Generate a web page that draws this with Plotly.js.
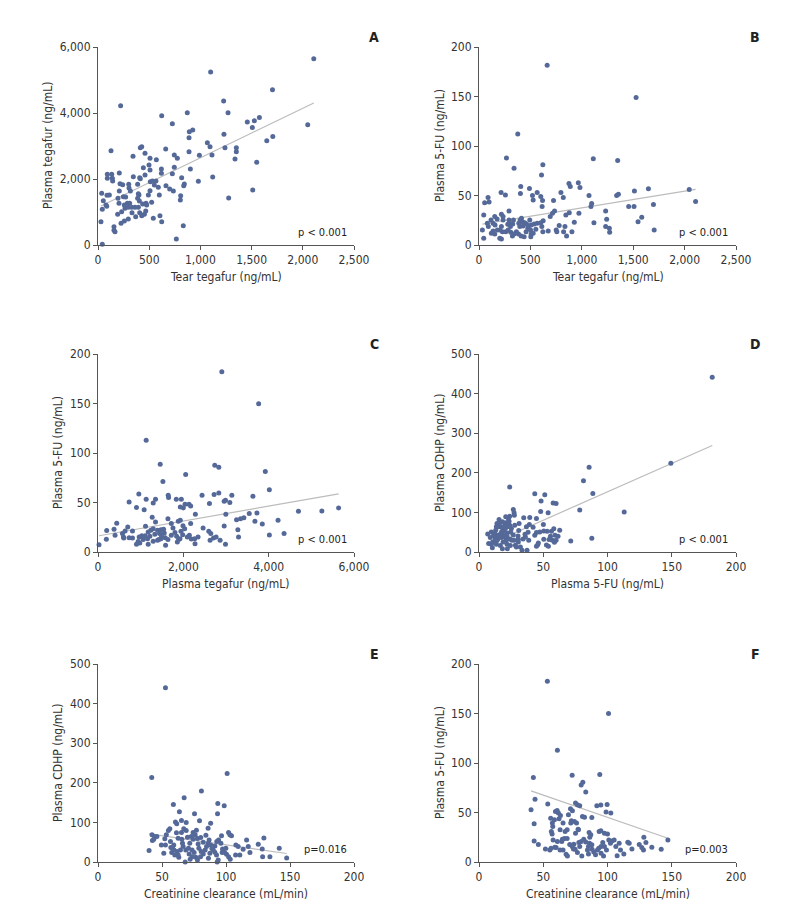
<!DOCTYPE html>
<html>
<head>
<meta charset="utf-8">
<script src="https://cdn.plot.ly/plotly-3.0.1.min.js"></script>
<style>
  body { margin: 0; background: #fff; }
  #charts { width: 794px; height: 915px; }
</style>
</head>
<body>
<div id="charts"></div>
<script>
// A: tear tegafur vs plasma tegafur
var aX = [221,622,872,1227,1270,726,925,892,889,1230,1068,1094,1240,1351,1351,1338,127,413,427,342,459,661,745,775,889,990,1113,508,570,498,443,508,619,619,745,726,902,1120,980,817,91,134,91,140,208,215,241,143,345,407,413,459,511,531,566,300,303,387,316,208,111,36,88,52,78,85,42,29,42,156,156,166,225,257,296,195,205,192,231,248,270,257,287,309,264,296,329,361,394,332,368,407,394,400,387,404,436,469,475,466,453,427,508,492,524,550,599,589,605,622,540,664,700,736,804,807,837,843,833,765,1276,2107,1100,1704,1458,1527,1576,1507,1648,1707,2048,1511,1550];
var aY = [4222,3919,4010,4363,4010,3676,3485,3434,3252,3353,3101,2980,2950,2950,2828,2606,2858,2950,2980,2687,2777,2909,2727,2626,2828,2717,2727,2626,2586,2424,2343,2272,2303,2171,2353,2161,2303,2060,1929,2040,2141,2141,2020,2020,2182,1858,1828,1939,2070,2040,2010,2121,1919,1939,1939,1838,1727,1838,1636,1636,1515,1565,1505,1343,1212,1172,1081,707,20,556,444,404,657,727,788,1414,1262,929,1010,1465,1454,1212,1262,1262,1111,1141,1141,1141,1141,980,858,980,1555,1515,1414,1333,1242,1262,1212,1030,929,889,1646,1515,1293,1818,1515,1747,889,707,808,1798,1697,1636,1364,1495,1798,1848,586,182,1424,5647,5240,4706,3724,3765,3866,3562,3157,3289,3643,1670,2510];

// B: tear tegafur vs plasma 5-FU
var bX = [663,1528,377,267,341,621,608,1112,1349,966,982,875,888,406,403,491,566,520,527,215,257,601,618,614,88,98,55,46,725,797,820,1070,1096,1089,972,878,845,735,715,693,1339,1356,1512,1648,2045,2107,1456,1508,1697,1232,1242,1547,1583,1118,1232,1268,1271,1704,927,904,852,823,836,780,751,757,673,621,611,624,601,566,536,507,484,462,445,423,400,413,387,397,429,475,501,507,504,458,439,410,384,364,341,325,309,283,299,292,335,306,260,228,202,218,234,218,292,234,153,137,156,137,120,153,179,202,218,81,91,33,46,117,176,494,553,527,280,328];
var bY = [181.5,149,112,88,77.6,81,70.8,87,85.3,63,58,62,59,59,52,57,53,50,45.5,53,50.6,48.9,44.9,38.8,47.9,43.5,42.8,30.4,44.9,53,47.9,50,42,38.8,32,32.7,30.4,34.4,32,28.7,50,51.3,54.6,56.7,56,44,38.8,38.8,40.8,34.4,26,23.6,28,22.6,18.6,16.9,12.8,15.2,22.9,13.5,9.1,13.5,18.6,19.6,15.2,13.5,14.2,13.5,18.6,24.6,22.6,21.9,21.2,20.2,19.2,21.2,22.6,23.6,25.3,27,21.9,18.6,19.2,16.9,15.2,11.1,8.4,13.5,8.4,9.1,11.1,13.5,11.1,9.1,12.8,15.2,21.9,25.3,25.3,18.6,13.5,13.5,15.2,18.6,25.3,31,34.4,28.7,28.7,21.9,20.2,14.2,11.8,11.1,15.2,6.7,6,21.9,18.6,15.2,6.7,25.3,26.3,25.3,15.9,11.8,20.9,21.2];

// C: plasma tegafur vs plasma 5-FU
var cX = [2902,3765,1129,1458,2737,2831,3921,2055,1521,4016,957,2831,2721,2439,3137,3631,1646,1654,1129,1348,1835,1953,729,1294,2612,2957,2988,3090,2039,2133,2172,1929,2000,902,1082,4698,5247,5639,3725,3545,2996,2282,3341,3419,3247,3678,4220,3851,1270,1348,1639,1718,1882,1929,2172,439,204,698,1114,1757,1992,2463,2957,2596,2643,3278,4016,4361,3294,376,400,573,635,808,965,1027,1106,1176,1239,1294,1396,1474,1537,1553,1443,1333,1216,1161,1059,941,902,980,1176,1294,1396,1474,1576,1639,1584,1718,1804,1843,1859,1921,1984,2094,2141,2188,2266,2274,2345,2627,2706,2768,2862,2988,808,729,604,196,24,596,1945,2031,1490,1427,1890];
var cY = [182,149.8,113,88.7,87.7,85.7,81.3,78.3,71.2,63,58.7,59.7,58,57.3,57.3,56.3,57.3,55,53.3,53.3,53.3,53.3,50.6,49.6,48.9,51.3,52.3,49.9,48.2,48.2,46.5,45.5,44.5,44.9,42.8,41.2,41.5,44.5,39.5,38.8,38.1,38.1,33.7,34.7,32.7,31,32,28.3,35.1,30.4,33.7,28.7,31,32,28.7,29,21.6,25.3,26,24.3,26.6,24.3,26.3,20.9,18.6,22.6,17.2,18.6,15.2,22.9,16.9,18.6,21.2,21.2,15.2,16.5,16.5,20.2,21.9,23.6,21.9,22.6,22.9,19.2,18.6,17.9,15.9,13.5,12.5,10.5,7.8,9.1,7.8,10.8,11.8,13.5,14.5,12.5,6.7,16.9,19.6,15.9,10.1,13.5,17.5,15.2,16.9,13.2,13.5,8.4,15.2,11.8,14.2,15.2,11.8,7.8,14.2,14.5,14.2,12.8,7.4,15.2,20.9,23.6,15.9,12.5,12.5];

// D: plasma 5-FU vs plasma CDHP
var dX = [181.5,149.3,85.7,81.3,88.6,113,78.4,87.8,71.4,23.9,43.4,51.2,48.3,57.7,60,48,53.8,26.7,27.3,44.7,39.5,34.8,39.2,50.1,42.1,44.7,50.4,53,56.4,58.2,62.8,59.2,50.4,54.5,57.1,58.7,46.2,45.7,52.5,54,38.7,30.4,30.9,31.2,29.1,32.2,33.5,23.4,22.9,23.9,20.3,18.7,16.1,15.3,13,19.5,21.8,24.7,26.7,24.2,21.3,17.7,15.1,12.7,11.4,9.6,6.8,8.8,7.5,10.4,13.5,16.6,18.7,21.8,24.4,14.5,17.7,15.6,20.5,22.1,16.1,13.5,10.6,20,21.8,25.5,35.8,38.2,22.6,18.2,13.5,27.8,36.1,47.3,30.6,28.3,43.4,12.2,16.9,23.9,25.2,9.6,18.7,14,20.8,27.5,27.3,55.6,61.5,60,36.9,20.8,17.4,12.5,30.6,34.3,44.7,37.4,22.1,18.2];
var dY = [441.6,224.2,214,180.2,148,100.7,105.8,34.7,27.9,164.1,147.2,144.7,128.6,123.5,122.7,102.4,99,107.4,99,84.6,87.1,86.3,69.4,69.4,62.6,49.1,53.3,52.5,52.5,58.4,55,42.3,32.1,31.3,29.6,24.5,22.8,18.6,17.8,14.4,29.6,40.6,54.1,71.9,12.7,12.7,4.2,77.8,84.6,67.7,67.7,59.2,73.6,63.5,55,52.5,48.2,50.8,43.1,33,29.6,36.4,42.3,33,42.3,50.8,45.7,36.4,21.2,11,19.5,16.1,25.4,19.5,16.1,31.3,51.6,82.1,59.2,63.5,38.1,27.1,25.4,38.1,38.1,29.6,44.8,49.9,74.4,76.1,63.5,67.7,38.1,50.8,25.4,16.9,42.3,48.2,46.5,90.5,59.2,19.5,42.3,71.9,88.8,93.1,29.6,39.8,39.8,29.6,63.5,73.6,63.5,38.1,32.1,33,14.4,4.2,8.5,8.5];

// E: creatinine clearance vs plasma CDHP
var eX = [52.7,42,100.9,80.8,67.3,58.9,93.6,98.6,63.6,75.4,93.4,65.2,68.9,79.3,88,60.5,61.5,56.1,55,67,68.9,76.9,86,61.3,42.2,42.5,43.6,46,75.9,84.3,96.5,102,103,104.3,129.6,116.1,125.2,52.2,56.6,62.6,65.5,69.9,72.8,74.3,77.7,80.3,71.7,66,59.2,52.7,58.2,59.4,61.8,60,62.6,63.1,68.1,66.5,68.6,71.2,73.5,75.1,76.4,77.7,78.8,80.6,82.2,83.7,84.8,86.1,88.1,87.4,86.3,90,91.3,92.8,94.2,92.6,93.1,96,97.3,98.8,100.4,102,99.9,107.7,109.5,113.4,117.4,118.7,107.5,110.8,128.3,128.6,134.3,141.6,147.4,39.9,51.4,44.3,53.4,57.6,64.4,73.5,80.1,70.7,65.2,74.3,91.3,93.9,103.3,82.2,86.8,89,97,78.2,56.9,49.5,72];
var eY = [440,213.2,223.3,179.4,162.4,145.5,148,142.1,126.9,121.8,121.8,104.9,99.8,104.1,98.1,100.7,96.4,83.8,79.5,83.8,79.5,80.4,85.4,73.6,68.5,54.1,57.5,64.3,68.5,67.7,66,74.4,68.5,66,60.9,55.8,44.8,58.4,51.6,60.1,57.5,62.6,64.3,57.5,59.2,61.8,47.4,47.4,43.1,43.1,35.5,30.5,26.2,17.8,17.8,11.8,0,38.9,30.5,20.3,30.5,23.7,11.8,5.1,34.7,26.2,20.3,30.5,38.9,47.4,43.1,22,9.3,30.5,40.6,51.6,55.8,17.8,0,47.4,33,24.5,19.5,13.5,34.7,43.1,38.9,32.1,38.9,23.7,17.8,17.8,33,13.5,13.5,34.7,10.2,28.8,22,64.3,68.5,23.7,30.5,13.5,13.5,34.7,74.4,74.4,24.5,5.1,6.8,49.9,55.8,33.8,23.7,45.7,36.4,43.1,6.8];

// F: creatinine clearance vs plasma 5-FU
var fX = [53.2,100.8,61,42.3,72.5,94,80.8,79.5,83.1,43.6,40.5,53.5,75.1,76.6,78.4,91.7,94.8,99.7,98.9,102.6,71.2,72.7,60.8,61.8,63.4,59.5,55.8,58.7,57.1,57.4,56.3,56.9,42.9,42.9,46.2,51.7,55.1,62.3,65.4,68.6,67,69.6,71.9,74.3,75.9,77.4,75.1,80.5,82.1,87.8,77.1,85.7,87,86.2,93.5,94.8,97.6,100,64.9,66.5,68.6,61,64.4,60,63.1,65.4,67.8,68.8,70.6,72.5,73.8,74.8,76.6,78.4,79.5,81.5,83.1,84.4,85.2,86,88,89.3,90.7,92.2,93.2,95,96.3,97.6,96.9,99.2,101,102.3,103.4,105.2,106.5,107.5,109.1,110.1,112.7,115.8,116.9,119,124.7,126.7,128.3,129.9,128,134.5,141.8,147,73.5,77.7,63.1,57.7,71.4,80,85.2,95,87.8,59,56.1];
var fY = [182.7,149.9,113,85.3,87.6,88.3,80.5,77.8,70.7,63.3,52.8,58.5,59.6,57.9,56.9,56.9,57.5,58.2,50.4,49.4,53.8,51.8,52.1,49.4,47,51.1,44.3,42.6,39.3,35.9,30.8,28.4,38.6,21.3,17.6,13.2,12.2,43.7,39.3,32.5,30.8,47.7,41.6,40.9,39.3,32.5,29.1,46,45.3,45,33.2,29.8,27.4,25,30.8,31.5,29.1,28.4,23,23.7,23.7,20.6,20.6,14.6,12.2,12.2,7.8,6.1,17.6,15.6,17.9,12.9,9.5,15.6,20.6,23,20.3,12.2,15.6,19,12.9,10.2,7.4,12.2,13.9,15.6,19.6,15.6,6.1,12.2,22.3,19,21.3,22.3,15.6,6.4,19,12.2,8.1,20,19,13.2,17.6,14.6,25,19.6,12.2,14.9,12.9,22.3,13.2,19.6,32.5,22.3,39.3,6.1,8.1,8.8,17.3,14.9,13.9];

// fitted lines: [intercept, slope]
var trendA = [1136, 1.504];
var trendB = [20.6, 0.01685];
var trendC = [16.2, 0.007537];
var trendD = [8.4, 1.436];
var trendE = [89.6, -0.4628];
var trendF = [90.1, -0.450];

var panelLetters = ['A', 'B', 'C', 'D', 'E', 'F'];
var pValues = ['p < 0.001', 'p < 0.001', 'p < 0.001', 'p < 0.001', 'p=0.016', 'p=0.003'];
var xTitles = ['Tear tegafur (ng/mL)', 'Tear tegafur (ng/mL)', 'Plasma tegafur (ng/mL)', 'Plasma 5-FU (ng/mL)', 'Creatinine clearance (mL/min)', 'Creatinine clearance (mL/min)'];
var yTitles = ['Plasma tegafur (ng/mL)', 'Plasma 5-FU (ng/mL)', 'Plasma 5-FU (ng/mL)', 'Plasma CDHP (ng/mL)', 'Plasma CDHP (ng/mL)', 'Plasma 5-FU (ng/mL)'];
var xRanges = [[0, 2500], [0, 2500], [0, 6000], [0, 200], [0, 200], [0, 200]];
var xSteps = [500, 500, 2000, 50, 50, 50];
var yRanges = [[0, 6000], [0, 200], [0, 200], [0, 500], [0, 500], [0, 200]];
var ySteps = [2000, 50, 50, 100, 100, 50];

var W = 794, H = 915;
var FONT = '"Liberation Sans Narrow", "DejaVu Sans Condensed", "Arial Narrow", sans-serif';
var DOT = '#556999';

// pixel boxes of each plot area (left, right, top, bottom)
var cols = [[98, 354], [479, 736]];
var rows = [[47, 245], [354, 552], [664, 862]];

var xs = [aX, bX, cX, dX, eX, fX];
var ys = [aY, bY, cY, dY, eY, fY];
var trends = [trendA, trendB, trendC, trendD, trendE, trendF];

var data = [];
var layout = {
  width: W, height: H,
  margin: {l: 0, r: 0, t: 0, b: 0},
  paper_bgcolor: '#fff', plot_bgcolor: '#fff',
  showlegend: false,
  font: {family: FONT, size: 12, color: '#333'},
  annotations: []
};

for (var i = 0; i < 6; i++) {
  var n = i === 0 ? '' : String(i + 1);
  var c = cols[i % 2], r = rows[Math.floor(i / 2)];
  var xd = [c[0] / W, c[1] / W];
  var yd = [1 - r[1] / H, 1 - r[0] / H];

  var lo = Math.min.apply(null, xs[i]), hi = Math.max.apply(null, xs[i]);
  var t = trends[i];
  data.push({
    x: [lo, hi], y: [t[0] + t[1] * lo, t[0] + t[1] * hi],
    xaxis: 'x' + n, yaxis: 'y' + n,
    type: 'scatter', mode: 'lines',
    line: {color: '#bcbcbc', width: 1.2},
    hoverinfo: 'skip'
  });
  data.push({
    x: xs[i], y: ys[i],
    xaxis: 'x' + n, yaxis: 'y' + n,
    type: 'scatter', mode: 'markers',
    marker: {color: DOT, size: 5},
    cliponaxis: false
  });

  var ax = {
    domain: xd, anchor: 'y' + n, range: xRanges[i], dtick: xSteps[i], tick0: 0,
    showline: true, linecolor: '#555', linewidth: 1, mirror: false,
    ticks: 'outside', ticklen: 4, tickcolor: '#555', tickwidth: 1,
    showgrid: false, zeroline: false, tickformat: ',d',
    tickfont: {family: FONT, size: 12, color: '#333'}, fixedrange: true
  };
  var ay = JSON.parse(JSON.stringify(ax));
  ay.domain = yd; ay.anchor = 'x' + n; ay.range = yRanges[i]; ay.dtick = ySteps[i];
  layout['xaxis' + n] = ax;
  layout['yaxis' + n] = ay;

  var ytx = (i % 2 === 0) ? (i === 0 ? 48 : 58) : 440;
  layout.annotations.push({
    xref: 'paper', yref: 'paper', x: ytx / W, y: 1 - (r[0] + r[1]) / 2 / H,
    text: yTitles[i], textangle: -90, showarrow: false,
    xanchor: 'center', yanchor: 'middle', font: {family: FONT, size: 12, color: '#333'}
  });
  layout.annotations.push({
    xref: 'paper', yref: 'paper', x: (c[0] + c[1]) / 2 / W, y: 1 - (r[1] + 32) / H,
    text: xTitles[i], showarrow: false,
    xanchor: 'center', yanchor: 'middle', font: {family: FONT, size: 12, color: '#333'}
  });
  layout.annotations.push({
    xref: 'paper', yref: 'paper', x: (c[0] + 276) / W, y: 1 - (r[0] - 10) / H,
    text: '<b>' + panelLetters[i] + '</b>', showarrow: false,
    xanchor: 'center', yanchor: 'middle', font: {family: FONT, size: 14, color: '#222'}
  });
  layout.annotations.push({
    xref: 'paper', yref: 'paper', x: (c[0] + 251) / W, y: 1 - (r[1] - 13) / H,
    text: pValues[i], showarrow: false,
    xanchor: 'right', yanchor: 'middle', font: {family: FONT, size: 11, color: '#222'}
  });
}

Plotly.newPlot('charts', data, layout, {staticPlot: true});
</script>
</body>
</html>
